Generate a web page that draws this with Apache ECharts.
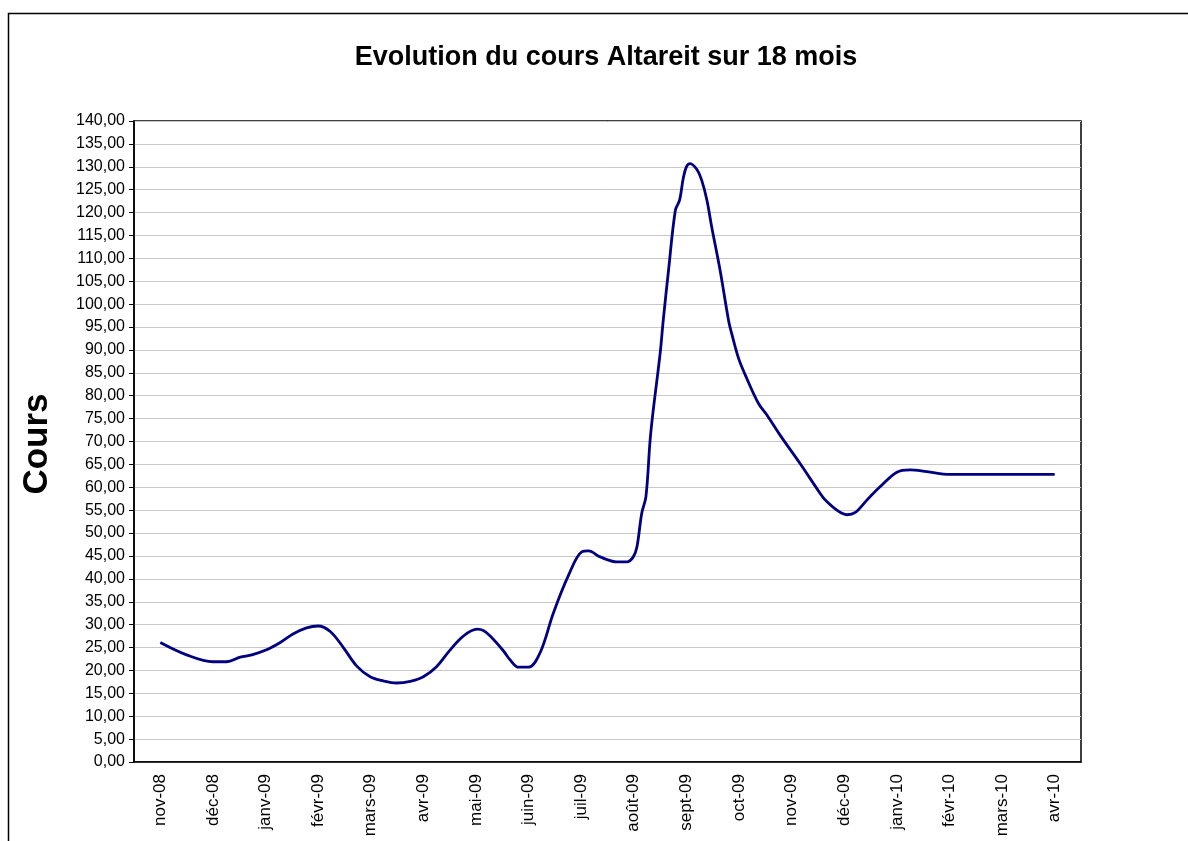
<!DOCTYPE html>
<html>
<head>
<meta charset="utf-8">
<script src="https://cdn.jsdelivr.net/npm/echarts@6/dist/echarts.min.js"></script>
<style>
  html, body { margin: 0; padding: 0; background: #fff; }
  #main { width: 1188px; height: 841px; }
</style>
</head>
<body>
<div id="main"></div>
<script>
// mois affichés sur l'axe
var mois = ['nov-08', 'déc-08', 'janv-09', 'févr-09', 'mars-09', 'avr-09', 'mai-09', 'juin-09', 'juil-09',
  'août-09', 'sept-09', 'oct-09', 'nov-09', 'déc-09', 'janv-10', 'févr-10', 'mars-10', 'avr-10'];

// position en mois depuis nov-08 et cours relevé
var position = [0, 0.5, 1.0, 1.26, 1.52, 1.74, 2.02, 2.28, 2.53, 2.78, 3.0, 3.23, 3.48, 3.73, 3.99, 4.24,
  4.49, 4.75, 5.0, 5.25, 5.51, 5.76, 6.02, 6.14, 6.27, 6.52, 6.65, 6.81, 7.0, 7.22, 7.47, 7.76, 8.01,
  8.14, 8.36, 8.68, 8.87, 8.99, 9.06, 9.15, 9.23, 9.31, 9.37, 9.5, 9.56, 9.66, 9.79, 9.87, 9.94, 10.0,
  10.07, 10.2, 10.29, 10.39, 10.48, 10.64, 10.8, 10.86, 10.99, 11.12, 11.37, 11.53, 11.78, 12.16,
  12.54, 12.64, 12.86, 13.05, 13.21, 13.43, 13.68, 14.0, 14.25, 14.57, 15.01, 16.0, 17.0];
var cours = [26.1, 23.4, 21.9, 21.9, 22.9, 23.4, 24.5, 26.1, 28.0, 29.3, 29.7, 28.5, 25.0, 21.0, 18.6, 17.7,
  17.25, 17.6, 18.6, 20.8, 24.5, 27.5, 29.0, 28.7, 27.5, 24.3, 22.3, 20.7, 20.7, 23.9, 32.5, 40.8, 45.9,
  46.1, 44.8, 43.7, 43.7, 44.8, 47.0, 54.3, 57.9, 70.3, 76.9, 89.2, 96.5, 107.4, 120.5, 122.7, 127.5, 130.0,
  130.7, 129.4, 127.1, 122.7, 116.9, 107.4, 96.5, 93.6, 88.2, 84.5, 78.3, 75.8, 71.4, 65.2,
  58.7, 57.2, 55.0, 54.0, 54.5, 57.2, 60.1, 63.3, 63.8, 63.4, 62.8, 62.8, 62.8];

var points = position.map(function (p, i) { return [p, cours[i]]; });

var myChart = echarts.init(document.getElementById('main'));
myChart.setOption({
  animation: false,
  backgroundColor: '#fff',
  textStyle: { fontFamily: 'Liberation Sans, Arial, sans-serif' },
  title: {
    text: 'Evolution du cours Altareit sur 18 mois',
    left: 601,
    textAlign: 'center',
    top: 39,
    textStyle: { fontSize: 27, fontWeight: 'bold', color: '#000', fontFamily: 'Liberation Sans, Arial, sans-serif' }
  },
  graphic: [
    {
      type: 'rect',
      shape: { x: 8.5, y: 13.5, width: 1300, height: 1000 },
      style: { fill: 'none', stroke: '#000', lineWidth: 1.5 },
      silent: true
    },
    {
      type: 'text',
      x: 37,
      y: 444,
      rotation: Math.PI / 2,
      style: {
        text: 'Cours',
        font: 'bold 35px "Liberation Sans", Arial, sans-serif',
        fill: '#000',
        align: 'center',
        verticalAlign: 'middle'
      }
    }
  ],
  grid: {
    left: 134, right: 107, top: 121, bottom: 79,
    show: true, borderColor: '#000', borderWidth: 1.5
  },
  xAxis: [
    {
      type: 'category',
      data: mois,
      boundaryGap: true,
      axisLine: { lineStyle: { color: '#000', width: 1.5 } },
      axisTick: { interval: 0, length: 5, lineStyle: { color: '#000' } },
      axisLabel: { interval: 0, rotate: 90, fontSize: 17, color: '#000', margin: 12 }
    },
    {
      type: 'value',
      min: -0.5,
      max: 17.5,
      show: false
    }
  ],
  yAxis: {
    type: 'value',
    min: 0,
    max: 140,
    interval: 5,
    axisLine: { show: true, onZero: false, lineStyle: { color: '#000', width: 1.5 } },
    axisTick: { show: true, length: 5, lineStyle: { color: '#000' } },
    axisLabel: {
      fontSize: 16, color: '#000', margin: 9,
      formatter: function (v) { return v.toFixed(2).replace('.', ','); }
    },
    splitLine: { lineStyle: { color: '#c8c8c8', width: 1 } }
  },
  series: [{
    name: 'Cours',
    type: 'line',
    xAxisIndex: 1,
    data: points,
    smooth: 0.35,
    showSymbol: false,
    lineStyle: { color: '#000080', width: 2.8 }
  }]
});
</script>
</body>
</html>
